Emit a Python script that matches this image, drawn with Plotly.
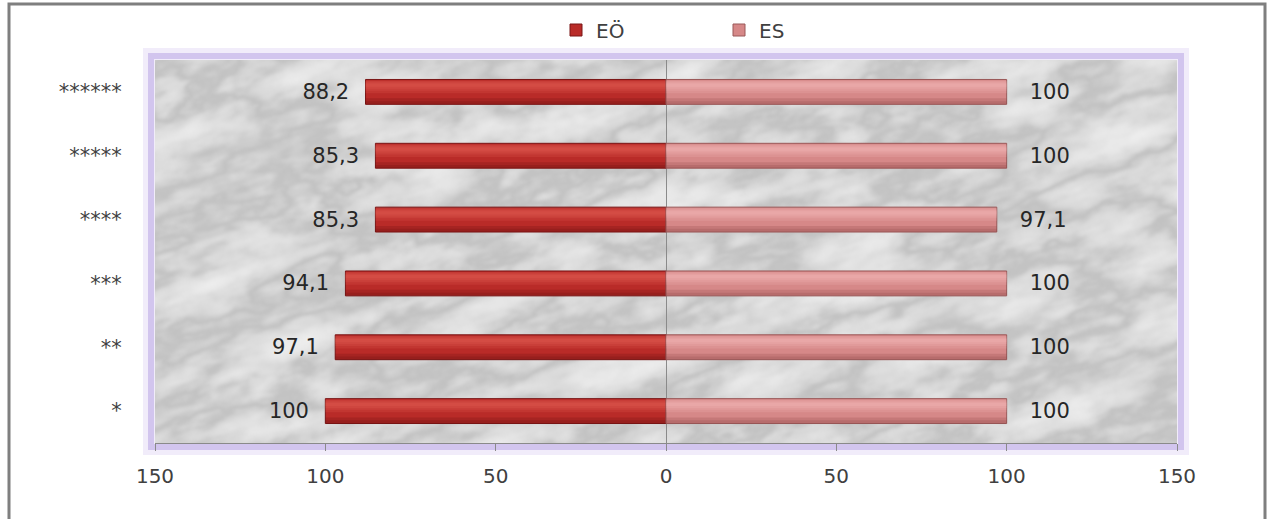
import base64
import plotly.graph_objects as go

# Categories (bottom to top) and the two series
categories = ["*", "**", "***", "****", "*****", "******"]
eo_values = [100, 97.1, 94.1, 85.3, 85.3, 88.2]
es_values = [100, 100, 100, 97.1, 100, 100]

tick_vals = [-150, -100, -50, 0, 50, 100, 150]
tick_text = ["150", "100", "50", "0", "50", "100", "150"]

W, H = 1268, 519
ML, MR, MT, MB = 155, 91, 60, 76
PW, PH = W - ML - MR, H - MT - MB


def fmt(v):
    s = ("%.1f" % v).rstrip("0").rstrip(".")
    return s.replace(".", ",")


NB = "\u00a0"
eo_text = [fmt(v) + NB * 2 for v in eo_values]
es_text = [NB * 3 + fmt(v) for v in es_values]
eo_neg = [-v for v in eo_values]

# Marble-like background: diagonal veins plus a finer grey mottle
tbl = "0.95 0.94 0.93 0.90 0.85 0.76 0.85 0.90 0.93 0.95 0.96"
marble_svg = f"""<svg xmlns='http://www.w3.org/2000/svg' width='{PW}' height='{PH}' viewBox='0 0 {PW} {PH}'>
<filter id='f' filterUnits='userSpaceOnUse' x='-400' y='-400' width='1900' height='1200' color-interpolation-filters='sRGB'>
<feTurbulence type='fractalNoise' baseFrequency='0.005 0.016' numOctaves='6' seed='23' result='a'/>
<feTurbulence type='fractalNoise' baseFrequency='0.03 0.05' numOctaves='3' seed='5' result='b'/>
<feComposite in='a' in2='b' operator='arithmetic' k1='0' k2='0.8' k3='0.2' k4='0'/>
<feColorMatrix type='matrix' values='1 0 0 0 0 1 0 0 0 0 1 0 0 0 0 0 0 0 0 1'/>
<feComponentTransfer>
<feFuncR type='table' tableValues='{tbl}'/>
<feFuncG type='table' tableValues='{tbl}'/>
<feFuncB type='table' tableValues='{tbl}'/>
<feFuncA type='linear' slope='0' intercept='1'/>
</feComponentTransfer>
<feGaussianBlur stdDeviation='1.3'/>
</filter>
<g transform='rotate(-18 {PW / 2} {PH / 2})'>
<rect x='-400' y='-400' width='1900' height='1200' filter='url(#f)'/>
</g>
</svg>"""
marble_uri = "data:image/svg+xml;base64," + base64.b64encode(marble_svg.encode()).decode()

BAR_W = 0.39
FONT = "DejaVu Sans"

fig = go.Figure()


def add_series(name, values, text, base, edge, light, shade):
    fig.add_trace(go.Bar(
        name=name, y=categories, x=values, orientation="h",
        width=BAR_W, offset=-BAR_W / 2,
        marker=dict(color=base, line=dict(color=edge, width=1)),
        text=text, textposition="outside", cliponaxis=False,
        textfont=dict(family=FONT, size=21, color="#262626"),
        hoverinfo="skip",
    ))
    # layered gloss over the upper part of the bar
    for w, off in [(0.20, -0.02), (0.15, 0.02), (0.10, 0.05), (0.05, 0.08)]:
        fig.add_trace(go.Bar(
            y=categories, x=values, orientation="h", showlegend=False,
            width=w, offset=off,
            marker=dict(color=light, line=dict(width=0)),
            hoverinfo="skip",
        ))
    # shade along the lower edge
    for w in [0.09, 0.045]:
        fig.add_trace(go.Bar(
            y=categories, x=values, orientation="h", showlegend=False,
            width=w, offset=-BAR_W / 2 + 0.005,
            marker=dict(color=shade, line=dict(width=0)),
            hoverinfo="skip",
        ))


add_series("EÖ", eo_neg, eo_text, "#b92b28", "#7a1616",
           "rgba(240,110,100,0.16)", "rgba(100,15,15,0.22)")
add_series("ES", es_values, es_text, "#d68888", "#9a5858",
           "rgba(252,200,200,0.16)", "rgba(130,60,60,0.2)")


# Paper-coordinate helpers
def px_x(p):
    return (p - ML) / PW


def px_y(p):
    return (H - MB - p) / PH


shapes = [
    # soft lavender frame around the plot area
    dict(type="rect", xref="paper", yref="paper", layer="below",
         x0=px_x(ML - 6), x1=px_x(ML + PW + 6), y0=px_y(MT + PH + 6), y1=px_y(MT - 6),
         line=dict(color="rgba(215,200,240,0.35)", width=12)),
    dict(type="rect", xref="paper", yref="paper", layer="below",
         x0=px_x(ML - 4), x1=px_x(ML + PW + 4), y0=px_y(MT + PH + 4), y1=px_y(MT - 4),
         line=dict(color="rgba(205,190,235,0.85)", width=6)),
    # outer chart border
    dict(type="rect", xref="paper", yref="paper", layer="below",
         x0=px_x(9), x1=px_x(1265), y0=px_y(530), y1=px_y(4),
         line=dict(color="#7f7f7f", width=3)),
]

fig.update_layout(
    width=W, height=H,
    margin=dict(l=ML, r=MR, t=MT, b=MB, autoexpand=False),
    paper_bgcolor="white",
    plot_bgcolor="rgba(0,0,0,0)",
    barmode="overlay",
    font=dict(family=FONT, size=18, color="#404040"),
    images=[dict(source=marble_uri, xref="paper", yref="paper", x=0, y=1,
                 sizex=1, sizey=1, sizing="stretch", layer="below",
                 xanchor="left", yanchor="top")],
    shapes=shapes,
    legend=dict(orientation="h", x=px_x(556), xanchor="left", y=px_y(30), yanchor="middle",
                entrywidth=118, entrywidthmode="pixels",
                font=dict(family=FONT, size=20, color="#404040"),
                bgcolor="rgba(0,0,0,0)", traceorder="normal"),
    xaxis=dict(range=[-150, 150], tickvals=tick_vals, ticktext=tick_text,
               showgrid=False, zeroline=True, zerolinecolor="#8a8a8a", zerolinewidth=1,
               showline=True, linecolor="#8a8a8a", linewidth=1,
               ticks="outside", ticklen=7, tickcolor="#8a8a8a",
               ticklabelstandoff=8,
               tickfont=dict(family=FONT, size=20, color="#404040"), fixedrange=True),
    yaxis=dict(categoryorder="array", categoryarray=categories,
               showgrid=False, zeroline=False, showline=False,
               ticks="outside", ticklen=28, tickcolor="rgba(0,0,0,0)",
               tickfont=dict(family=FONT, size=21, color="#404040"), fixedrange=True),
)

fig.write_html("out.html")
